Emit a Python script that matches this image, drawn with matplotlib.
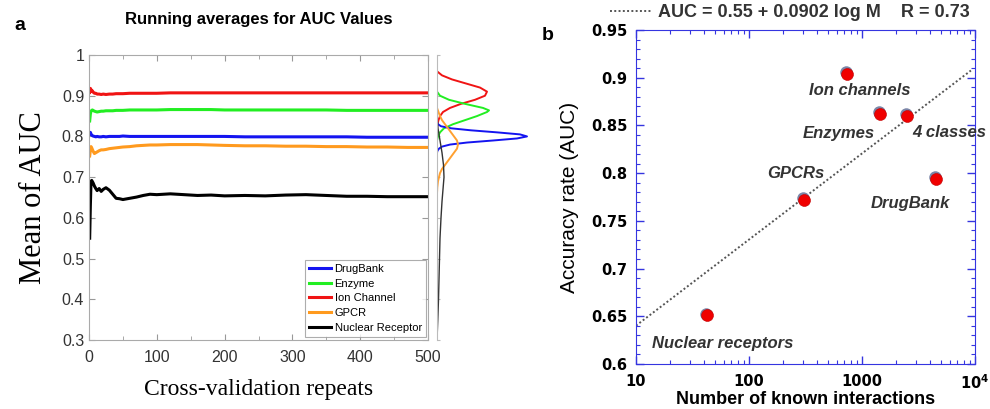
import numpy as np
import matplotlib
matplotlib.use("Agg")
import matplotlib.pyplot as plt
from matplotlib.transforms import offset_copy
from matplotlib.ticker import MultipleLocator, FuncFormatter, FixedLocator, FixedFormatter, LogLocator

plt.rcParams["font.family"] = ["Liberation Sans", "DejaVu Sans"]
plt.rcParams["mathtext.fontset"] = "dejavusans"

# ---- panel a: running averages of AUC over CV repeats ----
repeats = [1, 2, 3, 4, 5, 6, 8, 10, 12, 15, 18, 21, 25, 30, 35, 40, 45, 50, 60, 70, 80,
           90, 100, 120, 140, 160, 180, 200, 230, 260, 290, 320, 350, 380, 410, 440, 470, 500]
drugbank = [0.806, 0.810, 0.806, 0.803, 0.802, 0.801, 0.800, 0.799, 0.800, 0.799, 0.799, 0.800,
            0.799, 0.800, 0.800, 0.800, 0.800, 0.801, 0.800, 0.800, 0.800, 0.800, 0.800, 0.800,
            0.800, 0.800, 0.800, 0.800, 0.799, 0.799, 0.799, 0.799, 0.799, 0.799, 0.798, 0.798,
            0.798, 0.798]
enzyme = [0.838, 0.855, 0.862, 0.864, 0.865, 0.864, 0.862, 0.861, 0.860, 0.861, 0.862, 0.862,
          0.863, 0.863, 0.863, 0.864, 0.864, 0.864, 0.865, 0.865, 0.865, 0.865, 0.865, 0.866,
          0.866, 0.866, 0.866, 0.865, 0.865, 0.865, 0.865, 0.865, 0.865, 0.864, 0.864, 0.864,
          0.864, 0.864]
ion_channel = [0.908, 0.918, 0.915, 0.911, 0.912, 0.909, 0.906, 0.906, 0.904, 0.904, 0.903, 0.904,
               0.903, 0.904, 0.904, 0.905, 0.905, 0.905, 0.906, 0.906, 0.906, 0.906, 0.906, 0.907,
               0.907, 0.907, 0.907, 0.907, 0.907, 0.907, 0.907, 0.907, 0.907, 0.907, 0.907, 0.907,
               0.907, 0.907]
gpcr = [0.752, 0.765, 0.775, 0.772, 0.768, 0.764, 0.758, 0.760, 0.762, 0.765, 0.767, 0.767,
        0.768, 0.770, 0.771, 0.772, 0.773, 0.774, 0.775, 0.777, 0.778, 0.779, 0.779, 0.780,
        0.780, 0.780, 0.779, 0.778, 0.777, 0.777, 0.776, 0.776, 0.775, 0.775, 0.774, 0.774,
        0.773, 0.773]
nuclear = [0.550, 0.630, 0.690, 0.692, 0.689, 0.686, 0.678, 0.672, 0.667, 0.672, 0.665, 0.670,
           0.674, 0.668, 0.658, 0.648, 0.647, 0.645, 0.648, 0.651, 0.655, 0.658, 0.657, 0.659,
           0.657, 0.655, 0.656, 0.654, 0.655, 0.654, 0.656, 0.657, 0.655, 0.653, 0.653, 0.652,
           0.652, 0.652]

series_names = ["DrugBank", "Enzyme", "Ion Channel", "GPCR", "Nuclear Receptor"]
series_vals = [drugbank, enzyme, ion_channel, gpcr, nuclear]
series_cols = ["#1414f0", "#22ee22", "#f01414", "#ff9a1e", "#000000"]

# density of AUC values (side panel), relative widths
dens_ion_auc = [0.96, 0.95, 0.94, 0.93, 0.92, 0.91, 0.90, 0.89, 0.88, 0.87, 0.86, 0.85, 0.84, 0.83, 0.82]
dens_ion = [0, 5, 15, 29, 43, 50, 48, 38, 24, 13, 6, 3, 1.5, 0.5, 0]
dens_enz_auc = [0.91, 0.90, 0.89, 0.88, 0.87, 0.864, 0.86, 0.85, 0.84, 0.83, 0.82, 0.81, 0.80, 0.79]
dens_enz = [0, 3, 12, 28, 46, 52, 50, 40, 28, 16, 7, 3, 1, 0]
dens_db_auc = [0.835, 0.83, 0.825, 0.82, 0.815, 0.81, 0.805, 0.80, 0.795, 0.79, 0.785, 0.78,
               0.775, 0.77, 0.765, 0.76]
dens_db = [0, 1, 4, 14, 34, 60, 83, 90, 80, 56, 30, 13, 5, 2, 0.5, 0]
dens_gpcr_auc = [0.87, 0.86, 0.85, 0.84, 0.83, 0.82, 0.81, 0.80, 0.79, 0.78, 0.77, 0.76, 0.75,
                 0.74, 0.73, 0.72, 0.71, 0.70, 0.69, 0.675, 0.66]
dens_gpcr = [0, 1.5, 3, 5, 8, 11, 14, 17, 20, 21, 20, 17, 14, 11, 8, 5, 3, 2, 1, 0.3, 0]
dens_nr_auc = [0.85, 0.82, 0.79, 0.76, 0.73, 0.70, 0.67, 0.64, 0.60, 0.55, 0.50, 0.45, 0.40, 0.35, 0.30]
dens_nr = [0, 1, 3, 5, 6.5, 7, 6, 5, 4, 3, 2.5, 2, 1.5, 0.8, 0]

# ---- panel b: AUC vs number of known interactions ----
datasets = ["Ion channels", "Enzymes", "4 classes", "GPCRs", "DrugBank", "Nuclear receptors"]
n_known = [736, 1442, 2500, 307, 4520, 42]
auc_b = [0.905, 0.863, 0.861, 0.773, 0.795, 0.652]
fit_a, fit_b = 0.55, 0.0902
fit_range = [10, 9200]

fig = plt.figure(figsize=(9.9, 4.09), dpi=100)

# panel a
ax = fig.add_axes([89 / 990, 1 - 340 / 409, 339 / 990, 285 / 409])
for name, vals, col in zip(series_names, series_vals, series_cols):
    ax.plot(repeats, vals, color=col, lw=2.2, label=name, solid_joinstyle="round")
ax.set_xlim(0, 500)
ax.set_ylim(0.3, 1.0)
ax.xaxis.set_major_locator(MultipleLocator(100))
ax.xaxis.set_minor_locator(MultipleLocator(50))
ax.yaxis.set_major_locator(MultipleLocator(0.1))
ax.yaxis.set_major_formatter(FuncFormatter(lambda v, p: "%g" % round(v, 2)))
ax.tick_params(which="both", direction="in", top=True, right=True, color="#999999",
               labelcolor="#333333", labelsize=11.5, length=4)
ax.tick_params(which="minor", length=3)
ax.tick_params(axis="x", pad=7)
for s in ax.spines.values():
    s.set_color("#aaaaaa")
ax.set_title("Running averages for AUC Values", fontsize=12, fontweight="bold", pad=22)
ax.set_ylabel("Mean of AUC", family=["Liberation Serif"], fontsize=22, labelpad=10)
ax.set_xlabel("Cross-validation repeats", family=["Liberation Serif"], fontsize=17, labelpad=10)
leg = ax.legend(loc="lower right", bbox_to_anchor=(0.995, 0.01), borderaxespad=0, fontsize=8,
                handlelength=2.0, handletextpad=0.3, labelspacing=0.42, borderpad=0.4,
                fancybox=False, edgecolor="#999999")
leg.get_frame().set_linewidth(0.8)

# side density panel
axd = fig.add_axes([437 / 990, 1 - 340 / 409, 93 / 990, 285 / 409], sharey=ax)
dens = [(dens_ion, dens_ion_auc, "#f01414"), (dens_enz, dens_enz_auc, "#22ee22"),
        (dens_db, dens_db_auc, "#1414f0"), (dens_gpcr, dens_gpcr_auc, "#ffa030"),
        (dens_nr, dens_nr_auc, "#333333")]
for w, a, c in dens:
    axd.plot(w, a, color=c, lw=1.4 if c != "#333333" else 1.0)
axd.set_xlim(0, 93)
for k in ["top", "right", "bottom"]:
    axd.spines[k].set_visible(False)
axd.spines["left"].set_color("#bbbbbb")
axd.set_xticks([])
axd.tick_params(axis="y", direction="in", length=2, color="#bbbbbb", labelleft=False)

# panel b
bx = fig.add_axes([636 / 990, 1 - 364 / 409, 339 / 990, 334 / 409])
bx.set_xscale("log")
fx = np.array(fit_range, dtype=float)
fit_line, = bx.plot(fx, fit_a + fit_b * np.log10(fx), color="#555555", lw=1.4,
                    linestyle=(0, (1, 1.2)))
shadow = offset_copy(bx.transData, fig=fig, x=-0.6, y=0.6, units="dots")
bx.plot(n_known, auc_b, "o", ms=9, color="#7c86a8", mec="none", transform=shadow, zorder=3)
front = offset_copy(bx.transData, fig=fig, x=0.4, y=-0.8, units="dots")
bx.plot(n_known, auc_b, "o", ms=8.6, color="#f00000", mec="#c00000", mew=0.4,
        transform=front, zorder=4)
label_off = [(13, -18), (-41, -20), (42, -18), (-8, 25), (-26, -26), (16, -29)]
for name, x, y, off in zip(datasets, n_known, auc_b, label_off):
    bx.annotate(name, (x, y), xytext=off, textcoords="offset pixels", ha="center",
                va="center", fontsize=12, fontweight="bold", style="italic", color="#333333",
                annotation_clip=False)
bx.set_xlim(10, 1e4)
bx.set_ylim(0.6, 0.95)
bx.xaxis.set_major_locator(FixedLocator([10, 100, 1000, 10000]))
bx.xaxis.set_major_formatter(FixedFormatter(["10", "100", "1000", r"10$^{\mathbf{4}}$"]))
bx.xaxis.set_minor_locator(LogLocator(base=10, subs=np.arange(2, 10)))
bx.xaxis.set_minor_formatter(FuncFormatter(lambda v, p: ""))
bx.yaxis.set_major_locator(MultipleLocator(0.05))
bx.yaxis.set_minor_locator(MultipleLocator(0.01))
bx.yaxis.set_major_formatter(FuncFormatter(lambda v, p: "%g" % round(v, 2)))
bx.tick_params(which="both", direction="in", top=True, right=True, color="#3535e0")
bx.tick_params(which="major", length=6, width=1.0)
bx.tick_params(which="minor", length=3, width=0.8)
for lab in bx.get_xticklabels() + bx.get_yticklabels():
    lab.set_family(["DejaVu Sans"])
    lab.set_fontweight("bold")
    lab.set_fontsize(10.5)
bx.tick_params(axis="x", pad=7)
bx.tick_params(axis="y", pad=6)
for s in bx.spines.values():
    s.set_color("#3535e0")
bx.set_xlabel("Number of known interactions", fontsize=13, fontweight="bold", labelpad=-1)
bx.set_ylabel("Accuracy rate (AUC)", fontsize=15, labelpad=9)
bx.legend([fit_line], ["AUC = 0.55 + 0.0902 log M    R = 0.73"], loc="lower right",
          bbox_to_anchor=(1.012, 1.0), frameon=False, prop={"size": 13, "weight": "bold"},
          handlelength=2.3, handletextpad=0.35, borderaxespad=0.1, labelcolor="#333333")

fig.text(20 / 990, 1 - 25 / 409, "a", fontsize=14, fontweight="bold", ha="center", va="center")
fig.text(548 / 990, 1 - 35 / 409, "b", fontsize=14, fontweight="bold", ha="center", va="center")

fig.savefig("out.png", dpi=100)
